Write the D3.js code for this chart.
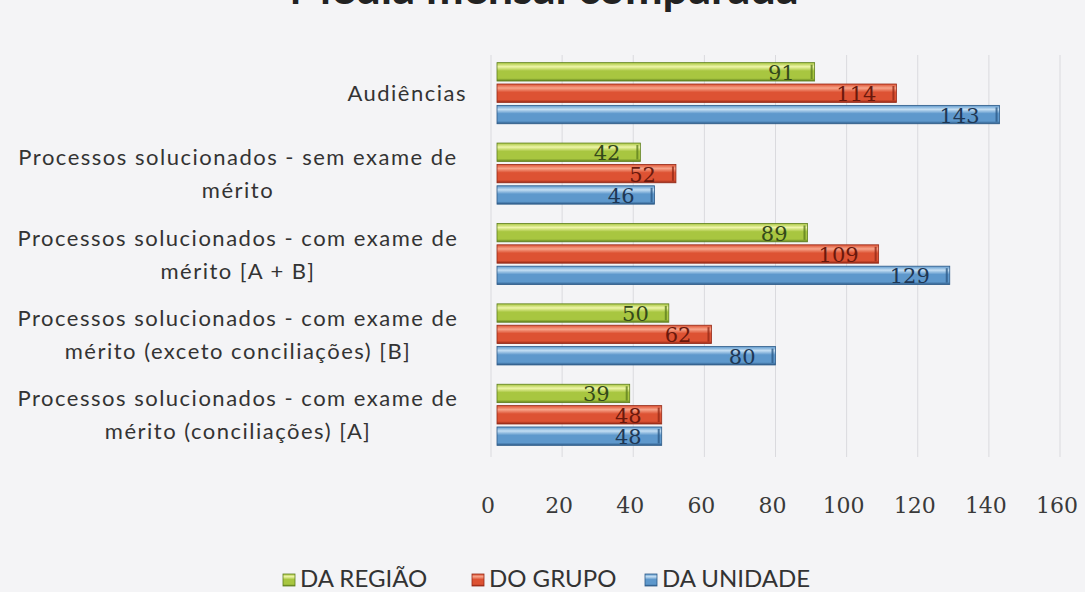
<!DOCTYPE html>
<html>
<head>
<meta charset="utf-8">
<script src="https://cdn.jsdelivr.net/npm/d3@7"></script>
<style>
    body { margin: 0; background: #f4f4f6; }
    svg { display: block; }
</style>
</head>
<body>
<div id="chart"></div>
<script>
// chart values
const categories = [
    "Audiências",
    "Processos solucionados - sem exame de mérito",
    "Processos solucionados - com exame de mérito [A + B]",
    "Processos solucionados - com exame de mérito (exceto conciliações) [B]",
    "Processos solucionados - com exame de mérito (conciliações) [A]"
];
const categoryLines = [
    ["Audiências"],
    ["Processos solucionados - sem exame de", "mérito"],
    ["Processos solucionados - com exame de", "mérito [A + B]"],
    ["Processos solucionados - com exame de", "mérito (exceto conciliações) [B]"],
    ["Processos solucionados - com exame de", "mérito (conciliações) [A]"]
];
const seriesNames = ["DA REGIÃO", "DO GRUPO", "DA UNIDADE"];
const regiao = [91, 42, 89, 50, 39];
const grupo = [114, 52, 109, 62, 48];
const unidade = [143, 46, 129, 80, 48];
const xTicks = [0, 20, 40, 60, 80, 100, 120, 140, 160];
const title = "Média mensal comparada";

const seriesValues = [regiao, grupo, unidade];

const width = 1085;
const height = 592;

// colours: [top highlight, middle, bottom, label]
const colours = [
    ["#eef5a8", "#a8c640", "#5f7f1e", "#34491a"],
    ["#f7a48a", "#dd5233", "#962a18", "#6a180c"],
    ["#c4def3", "#5e98cc", "#2d5b88", "#1e3754"]
];

const svg = d3.select('#chart')
    .append('svg')
        .attr('width', width)
        .attr('height', height);

const defs = svg.append('defs');
colours.forEach((c, i) => {
    let grad = defs.append('linearGradient')
        .attr('id', 'grad' + i)
        .attr('x1', 0).attr('y1', 0).attr('x2', 0).attr('y2', 1);
    grad.append('stop').attr('offset', '0%').attr('stop-color', c[1]);
    grad.append('stop').attr('offset', '22%').attr('stop-color', c[0]);
    grad.append('stop').attr('offset', '45%').attr('stop-color', c[1]);
    grad.append('stop').attr('offset', '85%').attr('stop-color', c[1]);
    grad.append('stop').attr('offset', '100%').attr('stop-color', c[2]);
});

const xScale = d3.scaleLinear()
    .domain([0, 160])
    .range([491, 1060]);

const yScale = d3.scaleBand()
    .domain(categories)
    .range([53, 455])
    .paddingInner(0.24)
    .paddingOuter(0.12);

const ySub = d3.scaleBand()
    .domain(seriesNames)
    .range([0, yScale.bandwidth()])
    .paddingInner(0.14);

// title (cut off at the top like the picture)
svg.append('text')
    .attr('x', 544)
    .attr('y', 4)
    .attr('text-anchor', 'middle')
    .style('font-family', 'Lato')
    .style('font-weight', 'bold')
    .style('font-size', '45px')
    .attr('fill', '#222')
    .text(title);

// vertical gridlines
svg.append('g')
    .selectAll('line')
    .data(xTicks)
    .enter()
        .append('line')
            .attr('x1', d => xScale(d))
            .attr('x2', d => xScale(d))
            .attr('y1', 55)
            .attr('y2', 457)
            .attr('stroke', '#dadade')
            .attr('stroke-width', 1);

// x tick labels
svg.append('g')
    .selectAll('text')
    .data(xTicks)
    .enter()
        .append('text')
            .attr('x', d => xScale(d) - 3)
            .attr('y', 513)
            .attr('text-anchor', 'middle')
            .style('font-family', 'DejaVu Serif')
            .style('font-size', '22px')
            .attr('fill', '#3a3a3a')
            .text(d => d);

// category labels
let catG = svg.append('g');
categories.forEach((cat, i) => {
    let lines = categoryLines[i];
    let cy = yScale(cat) + yScale.bandwidth() / 2;
    let lineH = 33;
    lines.forEach((line, j) => {
        let t = catG.append('text')
            .attr('y', cy - (lines.length - 1) * lineH / 2 + j * lineH + 8)
            .style('font-family', 'Lato')
            .style('font-size', '22px')
            .style('letter-spacing', '1.5px')
            .attr('fill', '#333')
            .text(line);
        if (lines.length == 1) {
            t.attr('x', 467).attr('text-anchor', 'end');
        } else {
            t.attr('x', 238).attr('text-anchor', 'middle');
        }
    });
});

// bars
seriesNames.forEach((name, s) => {
    let g = svg.append('g');
    let vals = seriesValues[s];
    g.selectAll('rect.bar')
        .data(vals)
        .enter()
            .append('rect')
                .attr('class', 'bar')
                .attr('x', xScale(0) + 6)
                .attr('y', (d, i) => yScale(categories[i]) + ySub(name))
                .attr('width', d => xScale(d) - xScale(0) - 6)
                .attr('height', ySub.bandwidth())
                .attr('fill', 'url(#grad' + s + ')')
                .attr('stroke', colours[s][2])
                .attr('stroke-width', 0.8);
    // end cap
    g.selectAll('rect.cap')
        .data(vals)
        .enter()
            .append('rect')
                .attr('class', 'cap')
                .attr('x', d => xScale(d) - 4)
                .attr('y', (d, i) => yScale(categories[i]) + ySub(name) + 2)
                .attr('width', 2)
                .attr('height', ySub.bandwidth() - 4)
                .attr('fill', colours[s][2])
                .attr('opacity', 0.8);
    // value labels
    g.selectAll('text')
        .data(vals)
        .enter()
            .append('text')
                .attr('x', d => xScale(d) - 20)
                .attr('y', (d, i) => yScale(categories[i]) + ySub(name) + ySub.bandwidth() / 2 + 8)
                .attr('text-anchor', 'end')
                .style('font-family', 'DejaVu Serif')
                .style('font-size', '21px')
                .attr('fill', colours[s][3])
                .text(d => d);
});

// legend
const legendX = [283, 472, 645];
let legend = svg.append('g');
seriesNames.forEach((name, s) => {
    legend.append('rect')
        .attr('x', legendX[s])
        .attr('y', 574)
        .attr('width', 12)
        .attr('height', 12)
        .attr('fill', 'url(#grad' + s + ')')
        .attr('stroke', colours[s][2])
        .attr('stroke-width', 0.8);
    legend.append('text')
        .attr('x', legendX[s] + 17)
        .attr('y', 587)
        .style('font-family', 'Lato')
        .style('font-size', '24px')
        .attr('fill', '#333')
        .text(name);
});
</script>
</body>
</html>
